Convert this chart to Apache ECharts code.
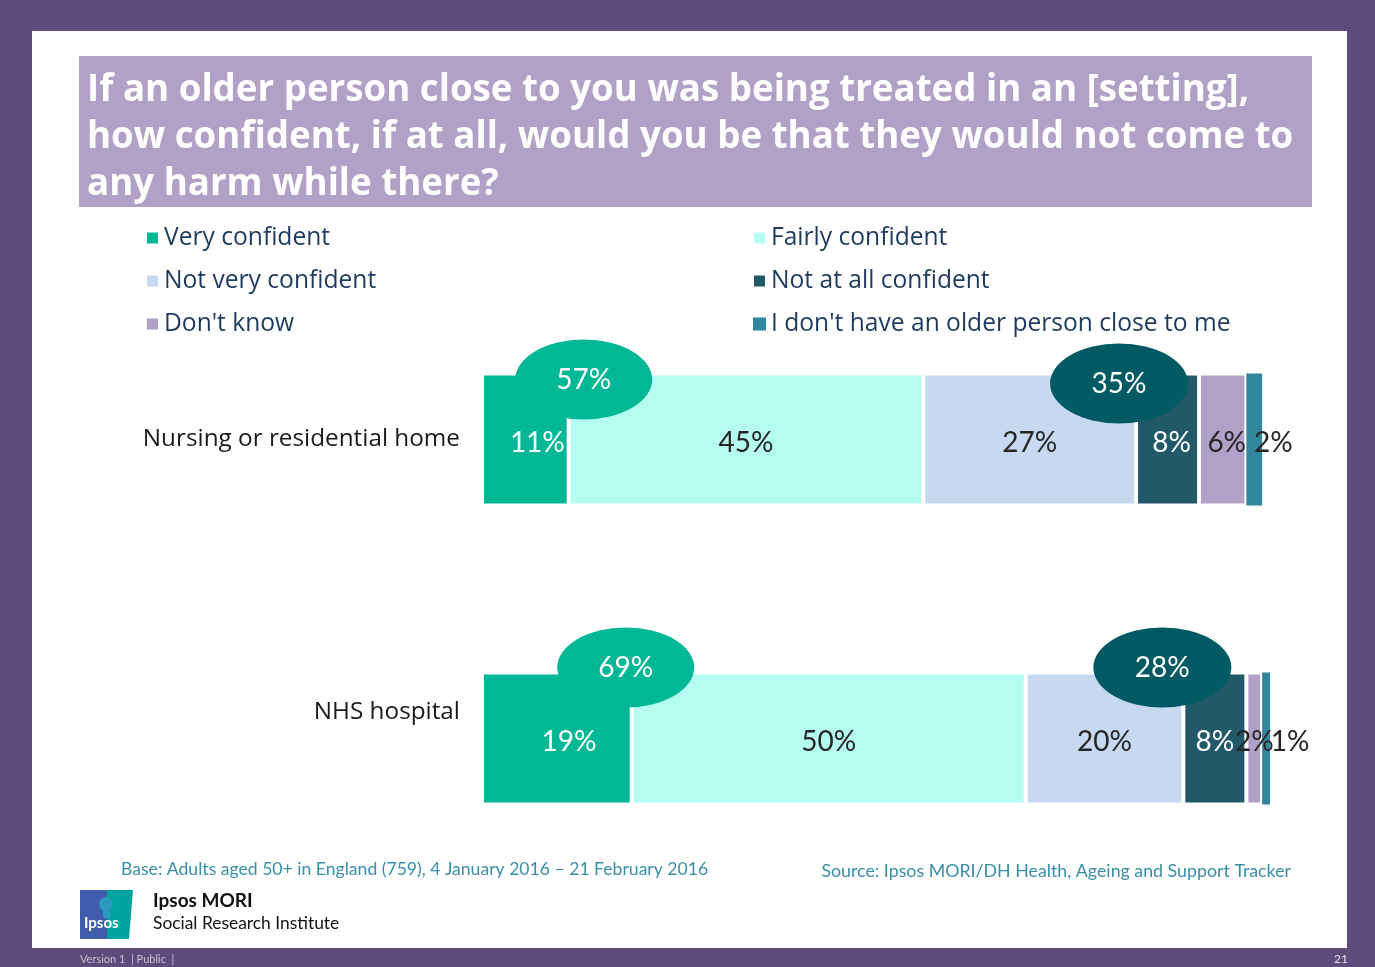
<!DOCTYPE html>
<html>
<head>
<meta charset="utf-8">
<title>Confidence that an older person would not come to harm</title>
<script src="https://cdn.jsdelivr.net/npm/echarts@6/dist/echarts.min.js"></script>
<style>
  html, body { margin: 0; padding: 0; background: #5f4b7b; }
  #chart { width: 1375px; height: 967px; }
</style>
</head>
<body>
<div id="chart"></div>
<script>
// Survey settings (one stacked bar each)
const categories = ['Nursing or residential home', 'NHS hospital'];

// Answer options, in stacking order
const answerNames = [
  'Very confident',
  'Fairly confident',
  'Not very confident',
  'Not at all confident',
  "Don't know",
  "I don't have an older person close to me"
];

// Percentages per setting
const veryConfident = [11, 19];
const fairlyConfident = [45, 50];
const notVeryConfident = [27, 20];
const notAtAllConfident = [8, 8];
const dontKnow = [6, 2];
const noOlderPerson = [2, 1];

// Net scores shown in the callout bubbles
const netConfident = [57, 69];
const netNotConfident = [35, 28];

const answerValues = [veryConfident, fairlyConfident, notVeryConfident, notAtAllConfident, dontKnow, noOlderPerson];
const answerColors = ['#00b796', '#b5fdf0', '#c6d9f1', '#215968', '#b1a0c7', '#31859c'];
const labelColors = ['#ffffff', '#262626', '#262626', '#ffffff', '#262626', '#262626'];

// Label nudges: the first segment's label sits a little right of centre,
// and the thinnest segments get their labels beside the bar
const labelNudge = {
  '0-0': [12, 3],
  '0-1': [12, 3],
  '5-0': [19, 3],
  '5-1': [24, 3],
  '4-0': [4, 3],
  '3-0': [4, 3]
};

const FONT = '"Open Sans", Lato, sans-serif';
const NUM_FONT = 'Lato, "Open Sans", sans-serif';
const chart = echarts.init(document.getElementById('chart'));

const barSeries = answerNames.map((name, s) => ({
  name: name,
  type: 'bar',
  stack: 'total',
  barWidth: 132,
  itemStyle: { color: answerColors[s], borderColor: '#ffffff', borderWidth: s === 5 ? 0 : 2 },
  label: {
    show: true,
    position: 'inside',
    color: labelColors[s],
    fontFamily: NUM_FONT,
    fontSize: 28,
    offset: [0, 3],
    formatter: p => p.value + '%'
  },
  data: answerValues[s].map((v, i) => {
    const nudge = labelNudge[s + '-' + i];
    return nudge ? { value: v, label: { offset: nudge } } : v;
  }),
  z: 2
}));

// Bubble outline (scaled into an ellipse by symbolSize)
const ellipse = 'path://M0,50 A50,50 0 1,1 100,50 A50,50 0 1,1 0,50 Z';

// Callout placement relative to segment boundaries (pixel nudges)
const confidentNudge = [[15, -60], [-6, -71]];
const notConfidentNudge = [[-17, -56], [-21, -71]];

const bubbleSeries = [
  {
    name: 'net-confident',
    type: 'scatter',
    symbol: ellipse,
    symbolSize: [137, 80],
    itemStyle: { color: '#00b796', opacity: 1 },
    label: {
      show: true, position: 'inside', color: '#ffffff', fontFamily: NUM_FONT, fontSize: 28,
      formatter: p => netConfident[p.dataIndex] + '%'
    },
    data: categories.map((c, i) => ({
      value: [veryConfident[i], c],
      symbolOffset: confidentNudge[i]
    })),
    z: 5
  },
  {
    name: 'net-not-confident',
    type: 'scatter',
    symbol: ellipse,
    symbolSize: [138, 80],
    itemStyle: { color: '#005a64', opacity: 1 },
    label: {
      show: true, position: 'inside', color: '#ffffff', fontFamily: NUM_FONT, fontSize: 28,
      formatter: p => netNotConfident[p.dataIndex] + '%'
    },
    data: categories.map((c, i) => ({
      value: [veryConfident[i] + fairlyConfident[i] + notVeryConfident[i], c],
      symbolOffset: notConfidentNudge[i]
    })),
    z: 5
  }
];

const legendText = { fontFamily: FONT, fontSize: 24.6, color: '#1f3a5f', lineHeight: 30 };

const option = {
  backgroundColor: '#5f4b7b',
  animation: false,
  textStyle: { fontFamily: FONT },
  title: {
    text: 'If an older person close to you was being treated in an [setting],\nhow confident, if at all, would you be that they would not come to\nany harm while there?',
    left: 82,
    top: 62,
    textStyle: {
      color: '#ffffff',
      fontFamily: FONT,
      fontWeight: 'bold',
      fontSize: 36.7,
      lineHeight: 47
    }
  },
  legend: [
    {
      orient: 'vertical',
      left: 145,
      top: 223,
      padding: 0,
      itemWidth: 13,
      itemHeight: 13,
      itemGap: 13,
      icon: 'rect',
      textStyle: legendText,
      data: [answerNames[0], answerNames[2], answerNames[4]]
    },
    {
      orient: 'vertical',
      left: 752,
      top: 223,
      padding: 0,
      itemWidth: 13,
      itemHeight: 13,
      itemGap: 13,
      icon: 'rect',
      textStyle: legendText,
      data: [answerNames[1], answerNames[3], answerNames[5]]
    }
  ],
  grid: { left: 482, width: 788, top: 290, height: 598 },
  xAxis: { type: 'value', min: 0, max: 100, show: false },
  yAxis: {
    type: 'category',
    inverse: true,
    data: categories,
    axisLine: { show: false },
    axisTick: { show: false },
    splitLine: { show: false },
    axisLabel: {
      margin: 22,
      formatter: (v, i) => (i === 0 ? '{a|' + v + '}' : '{b|' + v + '}'),
      rich: {
        a: { fontFamily: FONT, fontSize: 24.3, color: '#1a1a1a', padding: [0, 0, 0, 0] },
        b: { fontFamily: FONT, fontSize: 24.3, color: '#1a1a1a', padding: [0, 0, 52, 0] }
      }
    }
  },
  series: barSeries.concat(bubbleSeries),
  graphic: [
    // white page
    { type: 'rect', shape: { x: 32, y: 31, width: 1315, height: 917 }, style: { fill: '#ffffff' }, z: -10, silent: true },
    // title band
    { type: 'rect', shape: { x: 79, y: 56, width: 1233, height: 151 }, style: { fill: '#b2a1c7' }, z: -9, silent: true },
    // footnotes
    {
      type: 'text', left: 121, top: 860, silent: true,
      style: { text: 'Base: Adults aged 50+ in England (759), 4 January 2016 \u2013 21 February 2016', fill: '#3a8fa8', font: '17.6px ' + NUM_FONT }
    },
    {
      type: 'text', right: 84, top: 862, silent: true,
      style: { text: 'Source: Ipsos MORI/DH Health, Ageing and Support Tracker', fill: '#3a8fa8', font: '17.8px ' + NUM_FONT }
    },
    // logo block
    { type: 'rect', shape: { x: 80, y: 890, width: 27, height: 49 }, style: { fill: '#3f5dab' }, silent: true },
    { type: 'polygon', shape: { points: [[107, 890], [133, 890], [129, 939], [107, 939]] }, style: { fill: '#00a39d' }, silent: true },
    { type: 'circle', shape: { cx: 106, cy: 904, r: 7 }, style: { fill: '#2a9bbf' }, silent: true },
    { type: 'rect', shape: { x: 103, y: 909, width: 7, height: 9 }, style: { fill: '#2a9bbf' }, silent: true },
    {
      type: 'text', left: 84, top: 916, silent: true,
      style: { text: 'Ipsos', fill: '#ffffff', font: 'bold 15px ' + NUM_FONT }
    },
    {
      type: 'text', left: 153, top: 891, silent: true,
      style: { text: 'Ipsos MORI', fill: '#111111', font: 'bold 19px ' + NUM_FONT }
    },
    {
      type: 'text', left: 153, top: 915, silent: true,
      style: { text: 'Social Research Institute', fill: '#111111', font: '17.4px ' + NUM_FONT }
    },
    // bottom strip
    {
      type: 'text', left: 80, top: 954, silent: true,
      style: { text: 'Version 1  | Public  |', fill: '#c9c0d6', font: '11px ' + NUM_FONT }
    },
    {
      type: 'text', left: 1334, top: 953, silent: true,
      style: { text: '21', fill: '#e6e0ee', font: '12px ' + NUM_FONT }
    }
  ]
};

chart.setOption(option);
</script>
</body>
</html>
